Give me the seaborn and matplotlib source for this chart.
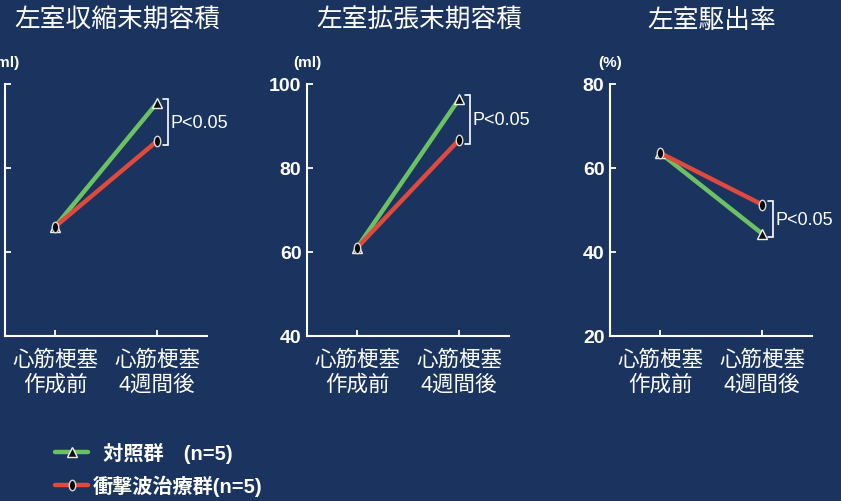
import numpy as np
import pandas as pd
import matplotlib
matplotlib.use("Agg")
import matplotlib.pyplot as plt
from matplotlib.lines import Line2D
from matplotlib.path import Path
import seaborn as sns

# ---- data -------------------------------------------------------------
timepoints = ["心筋梗塞\n作成前", "心筋梗塞\n4週間後"]
groups = ["対照群", "衝撃波治療群"]
legend_labels = ["  対照群　(n=5)", "衝撃波治療群(n=5)"]

esv_control = [26.0, 55.5]
esv_treated = [26.0, 46.4]
edv_control = [61.0, 96.4]
edv_treated = [61.0, 86.7]
ef_control = [63.6, 44.4]
ef_treated = [63.6, 51.3]

titles = ["左室収縮末期容積", "左室拡張末期容積", "左室駆出率"]
units = ["(ml)", "(ml)", "(%)"]
y_ticks = [[0, 20, 40, 60], [40, 60, 80, 100], [20, 40, 60, 80]]
p_text = "P<0.05"

# ---- style ------------------------------------------------------------
BG = "#1b345f"
FG = "white"
GREEN = "#6cc162"
RED = "#de4a3d"

sns.set_theme(style="white")
plt.rcParams["font.family"] = ["Liberation Sans", "Noto Sans CJK JP"]
plt.rcParams.update({
    "figure.facecolor": BG,
    "axes.facecolor": BG,
    "axes.edgecolor": FG,
    "text.color": FG,
    "xtick.color": FG,
    "ytick.color": FG,
})

# vertically stretched oval marker
t = np.linspace(0, 2 * np.pi, 48)
oval = Path(np.column_stack([0.62 * np.cos(t), np.sin(t)]), closed=True)
marker_map = {groups[0]: "^", groups[1]: oval}
color_map = {groups[0]: GREEN, groups[1]: RED}
TRI_SIZE, OVAL_SIZE = 7, 7.5

W, H = 841, 502
fig = plt.figure(figsize=(W / 100, H / 100), dpi=100)

panels = [
    (esv_control, esv_treated),
    (edv_control, edv_treated),
    (ef_control, ef_treated),
]
left_px = [5, 307, 610]
title_x = [117, 419, 712]
ax_w, ax_top, ax_bot = 202, 85, 337

for i, (ctrl, trt) in enumerate(panels):
    ax = fig.add_axes([left_px[i] / W, 1 - ax_bot / H,
                       ax_w / W, (ax_bot - ax_top) / H])
    df = pd.DataFrame({
        "time": timepoints * 2,
        "value": list(ctrl) + list(trt),
        "group": [groups[0]] * 2 + [groups[1]] * 2,
    })
    sns.lineplot(data=df, x="time", y="value", hue="group", style="group",
                 hue_order=groups, style_order=groups, palette=color_map,
                 markers=marker_map, dashes=False, linewidth=3.2,
                 markersize=OVAL_SIZE, sort=False, legend=False, ax=ax)
    for ln in ax.lines:
        if ln.get_marker() == "^":
            ln.set_markersize(TRI_SIZE)
            ln.set_markerfacecolor("#111111")
            ln.set_markeredgecolor("#f0f0f0")
        else:
            ln.set_markerfacecolor("#0a0a0a")
            ln.set_markeredgecolor("#d8d8d8")
        ln.set_markeredgewidth(1.0)

    lo, hi = y_ticks[i][0], y_ticks[i][-1]
    ax.set_ylim(lo, hi)
    ax.set_yticks(y_ticks[i])
    ax.set_xlim(-0.49, 1.49)
    ax.set_xlabel("")
    ax.set_ylabel("")
    for side in ("top", "right"):
        ax.spines[side].set_visible(False)
    for side in ("left", "bottom"):
        ax.spines[side].set_linewidth(1.5)
        ax.spines[side].set_color(FG)
    ax.tick_params(axis="y", direction="in", length=4, width=1.3, pad=4,
                   labelsize=14, left=True)
    ax.tick_params(axis="x", direction="in", length=4, width=1.3, pad=9.5,
                   labelsize=15.5, bottom=True)
    for lab in ax.get_yticklabels():
        lab.set_fontweight("bold")
    for lab in ax.get_xticklabels():
        lab.set_linespacing(1.25)

    # unit label above the axis
    ax.annotate(units[i], xy=(0, 1), xycoords="axes fraction",
                xytext=(0, 16), textcoords="offset points",
                ha="center", va="center", fontsize=11, fontweight="bold")

    # significance bracket at the second time point
    y_top = max(ctrl[1], trt[1]) + 0.9
    y_bot = min(ctrl[1], trt[1]) - 0.9
    xb, xe = 1.11, 1.06
    ax.plot([xe, xb, xb, xe], [y_top, y_top, y_bot, y_bot],
            color=FG, linewidth=1.2, solid_joinstyle="miter")
    ax.text(1.135, (y_top + y_bot) / 2, p_text, ha="left", va="center",
            fontsize=13)

    fig.text(title_x[i] / W, 1 - 21 / H, titles[i], ha="center",
             va="center", fontsize=18.5)

# legend
handles = [
    Line2D([], [], color=GREEN, linewidth=3.2, marker="^",
           markersize=TRI_SIZE, markerfacecolor="#111111",
           markeredgecolor="#f0f0f0", markeredgewidth=1.0),
    Line2D([], [], color=RED, linewidth=3.2, marker=oval,
           markersize=OVAL_SIZE, markerfacecolor="#0a0a0a",
           markeredgecolor="#d8d8d8", markeredgewidth=1.0),
]
leg = fig.legend(handles, legend_labels, loc="center left",
                 bbox_to_anchor=(55 / W, 1 - 470 / H), frameon=False,
                 borderaxespad=0, borderpad=0,
                 handlelength=1.65, handletextpad=0.2, labelspacing=0.6,
                 numpoints=1, prop={"size": 14.5, "weight": "bold"})
for txt in leg.get_texts():
    txt.set_color(FG)

fig.savefig("out.png", dpi=100, facecolor=BG)
